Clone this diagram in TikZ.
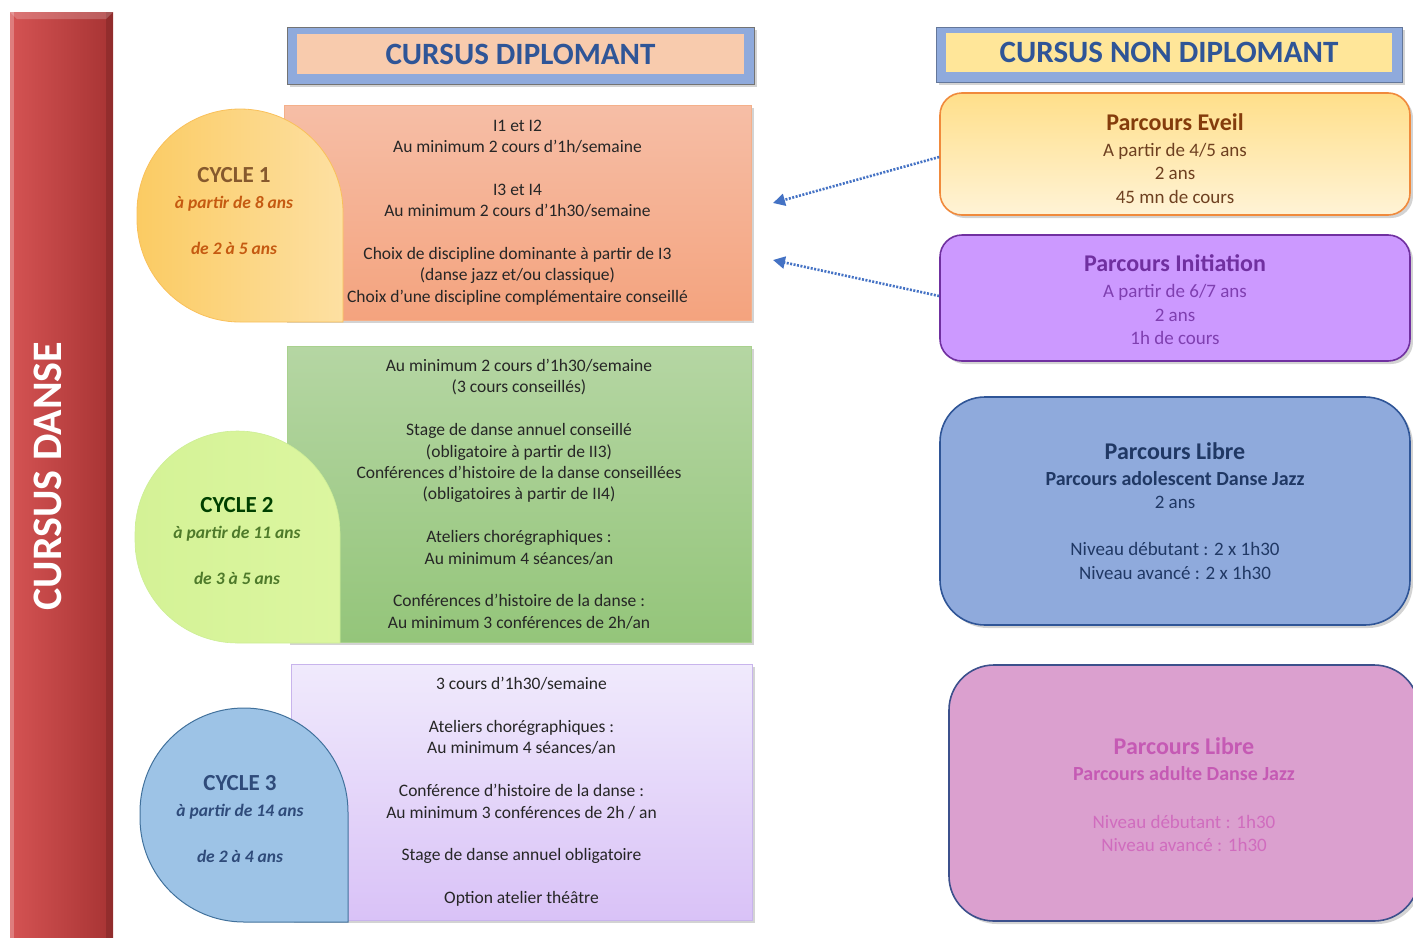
\documentclass[tikz,border=0pt]{standalone}
\usepackage{fontspec}
\setmainfont{Carlito}
\usetikzlibrary{arrows.meta,shadows}

\definecolor{barre}{HTML}{D04040}
\definecolor{bleuT}{HTML}{2F5597}
\definecolor{cadreB}{HTML}{8FAADC}
\definecolor{peche}{HTML}{F8CBAD}
\definecolor{jaune}{HTML}{FFE699}
\definecolor{fleche}{HTML}{4472C4}

\tikzset{
  ombre/.style={drop shadow={opacity=0.35,shadow xshift=3pt,shadow yshift=-3pt}},
  boite/.style={inner sep=0pt,align=center,ombre,text=black!85,
    font=\fontsize{17.5}{21.4}\selectfont},
  parcours/.style={inner sep=0pt,ombre,line width=1.6pt,minimum width=470pt},
  texte/.style={align=center,font=\fontsize{19}{23.5}\selectfont},
  cycle/.style={align=center,font=\bfseries\itshape\fontsize{17.5}{23}\selectfont},
  pointille/.style={draw=fleche,line width=2.6pt,dash pattern=on 2pt off 1.5pt,
    -{Triangle[length=12pt,width=12pt,fill=fleche]}}
}
\newcommand{\blanc}{\\[21.4pt]}
\newcommand{\titre}{\bfseries\fontsize{24}{26}\selectfont}
% goutte : gauche, haut, droite, bas, style
\newcommand{\goutte}[5]{%
  \pgfmathsetmacro{\rg}{(#3-#1)/2}%
  \path[#5] (#3,#4) -- ({#1+\rg},#4) arc (90:180:\rg) -- (#1,{#2+\rg})
    arc (180:360:\rg) -- cycle;}

\begin{document}
\begin{tikzpicture}[x=1pt,y=-1pt]
  \useasboundingbox (0,0) rectangle (1413,937);
  \clip (0,0) rectangle (1413,937);

  % barre laterale
  \shade[left color=barre!90!white,right color=barre!80!black] (10,12) rectangle (113,945);
  \fill[barre!60!black,opacity=0.5] (106,12) rectangle (113,945);
  \fill[white,opacity=0.25] (10,12) rectangle (14,945);
  \fill[white,opacity=0.2] (10,12) -- (113,12) -- (106,19) -- (17,19) -- cycle;
  \node[rotate=90,text=white,font=\bfseries\fontsize{42}{46}\selectfont] (danse) at (48,476) {CURSUS DANSE};

  % titres
  \node[fill=cadreB,draw=black!55,line width=0.5pt,ombre,minimum width=467pt,minimum height=57pt,inner sep=0pt] (cadre1) at (520.5,55.5) {};
  \node[fill=peche,minimum width=447pt,minimum height=40pt,inner sep=0pt,text=bleuT,
    font=\bfseries\fontsize{31}{34}\selectfont] (diplo) at (520.5,54) {CURSUS DIPLOMANT};
  \node[fill=cadreB,draw=cadreB!70!black,line width=0.5pt,ombre,minimum width=466pt,minimum height=55pt,inner sep=0pt] (cadre2) at (1169,54.5) {};
  \node[fill=jaune,minimum width=446pt,minimum height=39pt,inner sep=0pt,text=bleuT,
    font=\bfseries\fontsize{31}{34}\selectfont] (nondiplo) at (1169,52.5) {CURSUS NON DIPLOMANT};

  % cursus diplomant
  \node[boite,draw={rgb,255:red,244;green,176;blue,138},line width=0.6pt,
    top color={rgb,255:red,246;green,190;blue,166},bottom color={rgb,255:red,244;green,163;blue,126},
    minimum width=467pt,minimum height=215pt] (b1) at (517.5,212.5)
    {I1 et I2\\ Au minimum 2 cours d’1h/semaine\blanc I3 et I4\\ Au minimum 2 cours d’1h30/semaine\blanc
     Choix de discipline dominante à partir de I3\\ (danse jazz et/ou classique)\\
     Choix d’une discipline complémentaire conseillé};
  \node[boite,draw={rgb,255:red,169;green,209;blue,142},line width=0.6pt,
    top color={rgb,255:red,181;green,214;blue,163},bottom color={rgb,255:red,148;green,197;blue,122},
    minimum width=464pt,minimum height=296pt] (b2) at (519,494)
    {Au minimum 2 cours d’1h30/semaine\\ (3 cours conseillés)\blanc
     Stage de danse annuel conseillé\\ (obligatoire à partir de II3)\\
     Conférences d’histoire de la danse conseillées\\ (obligatoires à partir de II4)\blanc
     Ateliers chorégraphiques :\\ Au minimum 4 séances/an\blanc
     Conférences d’histoire de la danse :\\ Au minimum 3 conférences de 2h/an};
  \node[boite,draw={rgb,255:red,200;green,180;blue,236},line width=0.6pt,
    top color={rgb,255:red,240;green,234;blue,252},bottom color={rgb,255:red,217;green,194;blue,247},
    minimum width=461pt,minimum height=256pt] (b3) at (521.5,792)
    {3 cours d’1h30/semaine\blanc Ateliers chorégraphiques :\\ Au minimum 4 séances/an\blanc
     Conférence d’histoire de la danse :\\ Au minimum 3 conférences de 2h / an\blanc
     Stage de danse annuel obligatoire\blanc Option atelier théâtre};

  % cycles
  \goutte{137}{109}{343}{322}{draw={rgb,255:red,249;green,192;blue,90},line width=0.8pt,
    left color={rgb,255:red,251;green,203;blue,99},right color={rgb,255:red,253;green,224;blue,162}}
  \goutte{135}{431}{340}{643}{draw={rgb,255:red,205;green,238;blue,150},line width=0.6pt,
    left color={rgb,255:red,212;green,242;blue,150},right color={rgb,255:red,220;green,246;blue,160}}
  \goutte{140}{708}{348}{922}{draw={rgb,255:red,65;green,113;blue,156},line width=1pt,
    fill={rgb,255:red,157;green,195;blue,230}}
  \node[cycle,text={rgb,255:red,197;green,90;blue,17}] (c1) at (234,211)
    {{\upshape\fontsize{23}{26}\selectfont\color{brown!70!black}CYCLE 1}\\[3pt] à partir de 8 ans\\[23pt] de 2 à 5 ans};
  \node[cycle,text={rgb,255:red,78;green,122;blue,42}] (c2) at (237,541)
    {{\upshape\fontsize{23}{26}\selectfont\color{green!25!black}CYCLE 2}\\[3pt] à partir de 11 ans\\[23pt] de 3 à 5 ans};
  \node[cycle,text={rgb,255:red,47;green,75;blue,122}] (c3) at (240,819)
    {{\upshape\fontsize{23}{26}\selectfont CYCLE 3}\\[3pt] à partir de 14 ans\\[23pt] de 2 à 4 ans};

  % cursus non diplomant
  \node[parcours,rounded corners=22pt,minimum height=122pt,draw={rgb,255:red,240;green,138;blue,60},
    top color={rgb,255:red,255;green,223;blue,138},bottom color={rgb,255:red,255;green,243;blue,214}] (eveil) at (1175,154) {};
  \node[texte,text={rgb,255:red,110;green,64;blue,32}] (teveil) at ([yshift=-4.5pt]eveil.center)
    {{\titre\color[HTML]{843C0C}Parcours Eveil}\\[2.5pt] A partir de 4/5 ans\\ 2 ans\\ 45 mn de cours};
  \node[parcours,rounded corners=22pt,minimum height=126pt,draw={rgb,255:red,112;green,48;blue,160},
    fill={rgb,255:red,204;green,153;blue,255}] (initiation) at (1175,298) {};
  \node[texte,text={rgb,255:red,127;green,63;blue,176}] (tinitiation) at ([yshift=-2pt]initiation.center)
    {{\titre\color[HTML]{7030A0}Parcours Initiation}\\[2.5pt] A partir de 6/7 ans\\ 2 ans\\ 1h de cours};
  \node[parcours,rounded corners=45pt,minimum height=228pt,draw=bleuT,fill=cadreB] (libre1) at (1175,511) {};
  \node[texte,text={rgb,255:red,32;green,56;blue,100}] (tlibre1) at (libre1.center)
    {{\titre Parcours Libre}\\[2.5pt] {\bfseries\fontsize{20}{23.5}\selectfont Parcours adolescent Danse Jazz}\\
     2 ans\\[23.5pt] Niveau débutant : 2 x 1h30\\ Niveau avancé : 2 x 1h30};
  \node[parcours,rounded corners=45pt,minimum height=256pt,draw={rgb,255:red,60;green,80;blue,140},
    fill={rgb,255:red,219;green,160;blue,207}] (libre2) at (1184,793) {};
  \node[texte,text={rgb,255:red,208;green,108;blue,190}] (tlibre2) at ([yshift=-2pt]libre2.center)
    {{\titre\color[HTML]{C55AB4}Parcours Libre}\\[2.5pt] {\bfseries\fontsize{20}{23.5}\selectfont\color[HTML]{C55AB4}Parcours adulte Danse Jazz}\\[24pt]
     Niveau débutant : 1h30\\ Niveau avancé : 1h30};

  % liaisons
  \coordinate (p1) at (773,203);
  \coordinate (p2) at (773,260);
  \draw[pointille] ([yshift=-3pt]eveil.west) -- (p1);
  \draw[pointille] ([yshift=2pt]initiation.west) -- (p2);
\end{tikzpicture}
\end{document}
